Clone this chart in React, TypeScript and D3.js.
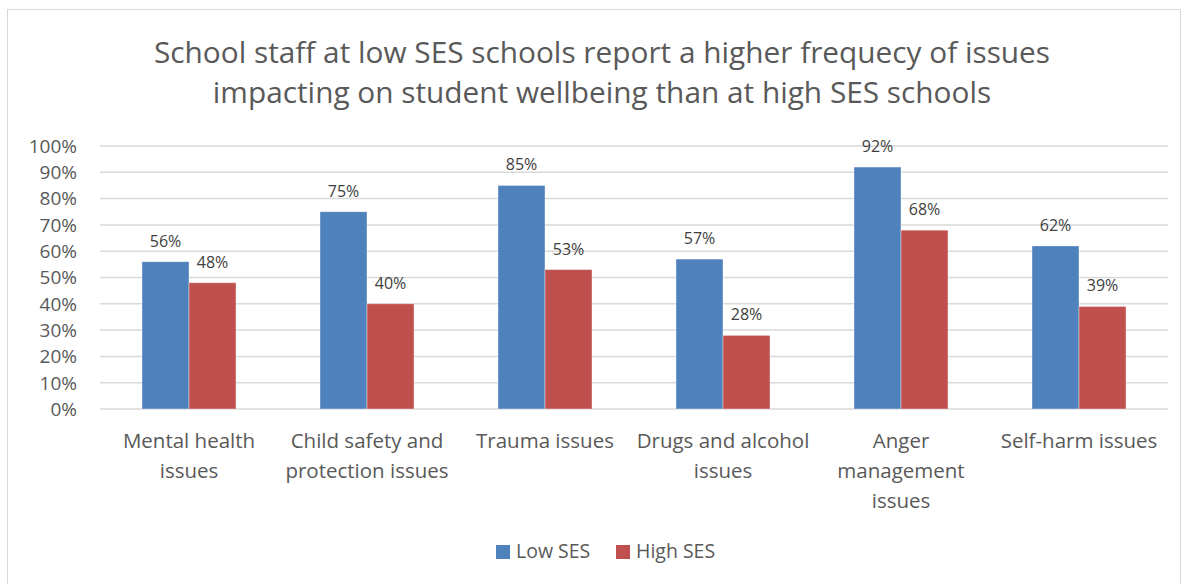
import * as d3 from 'd3';

const categories = [
  ['Mental health', 'issues'],
  ['Child safety and', 'protection issues'],
  ['Trauma issues'],
  ['Drugs and alcohol', 'issues'],
  ['Anger', 'management', 'issues'],
  ['Self-harm issues'],
];
const lowSES = [56, 75, 85, 57, 92, 62];
const highSES = [48, 40, 53, 28, 68, 39];
const seriesNames = ['Low SES', 'High SES'];
const seriesColors = ['#4f81bd', '#c0504d'];
const yTicks = [0, 10, 20, 30, 40, 50, 60, 70, 80, 90, 100];
const titleLines = [
  'School staff at low SES schools report a higher frequecy of issues',
  'impacting on student wellbeing than at high SES schools',
];

const W = 1189;
const H = 584;
const font = '"Open Sans", "Noto Sans", sans-serif';

export default function App() {
  const left = 100;
  const right = 1168;
  const top = 146;
  const bottom = 409;

  const x = d3.scaleBand<number>().domain(d3.range(categories.length)).range([left, right]).padding(0);
  const y = d3.scaleLinear().domain([0, 100]).range([bottom, top]);
  const barW = 47;
  const series = [lowSES, highSES];

  return (
    <svg width={W} height={H} style={{ position: 'absolute', left: 0, top: 0 }} fontFamily={font}>
      <rect x={0} y={0} width={W} height={H} fill="#fff" />
      <rect x={7.5} y={9.5} width={1173} height={H} fill="none" stroke="#d9d9d9" strokeWidth={1} />

      {titleLines.map((t, i) => (
        <text key={i} x={602} y={63 + i * 40} textAnchor="middle" fontSize={29.8} fill="#595959">
          {t}
        </text>
      ))}

      {yTicks.map((t) => (
        <g key={t}>
          <line x1={left} x2={right} y1={y(t)} y2={y(t)} stroke="#d9d9d9" strokeWidth={1.5} />
          <text x={77} y={y(t)} dy="0.36em" textAnchor="end" fontSize={19} fill="#595959">
            {t}%
          </text>
        </g>
      ))}

      {categories.map((_, i) => {
        const cx = x(i)! + x.bandwidth() / 2;
        return series.map((s, k) => {
          const bx = cx - barW + k * barW;
          return (
            <g key={`${i}-${k}`}>
              <rect
                x={bx}
                y={y(s[i])}
                width={barW}
                height={y(0) - y(s[i])}
                fill={seriesColors[k]}
                stroke="#fff"
                strokeOpacity={0.5}
                strokeWidth={0.75}
              />
              <text x={bx + barW / 2} y={y(s[i]) - 15} textAnchor="middle" fontSize={16} fill="#404040">
                {s[i]}%
              </text>
            </g>
          );
        });
      })}

      {categories.map((lines, i) => {
        const cx = x(i)! + x.bandwidth() / 2;
        return (
          <text key={i} textAnchor="middle" fontSize={20.5} fill="#595959">
            {lines.map((l, j) => (
              <tspan key={j} x={cx} y={448 + j * 30}>
                {l}
              </tspan>
            ))}
          </text>
        );
      })}

      {seriesNames.map((n, k) => {
        const lx = [496, 616][k];
        return (
          <g key={n}>
            <rect x={lx} y={545} width={14} height={14} fill={seriesColors[k]} />
            <text x={lx + 20} y={558} fontSize={19.5} fill="#595959">
              {n}
            </text>
          </g>
        );
      })}
    </svg>
  );
}
